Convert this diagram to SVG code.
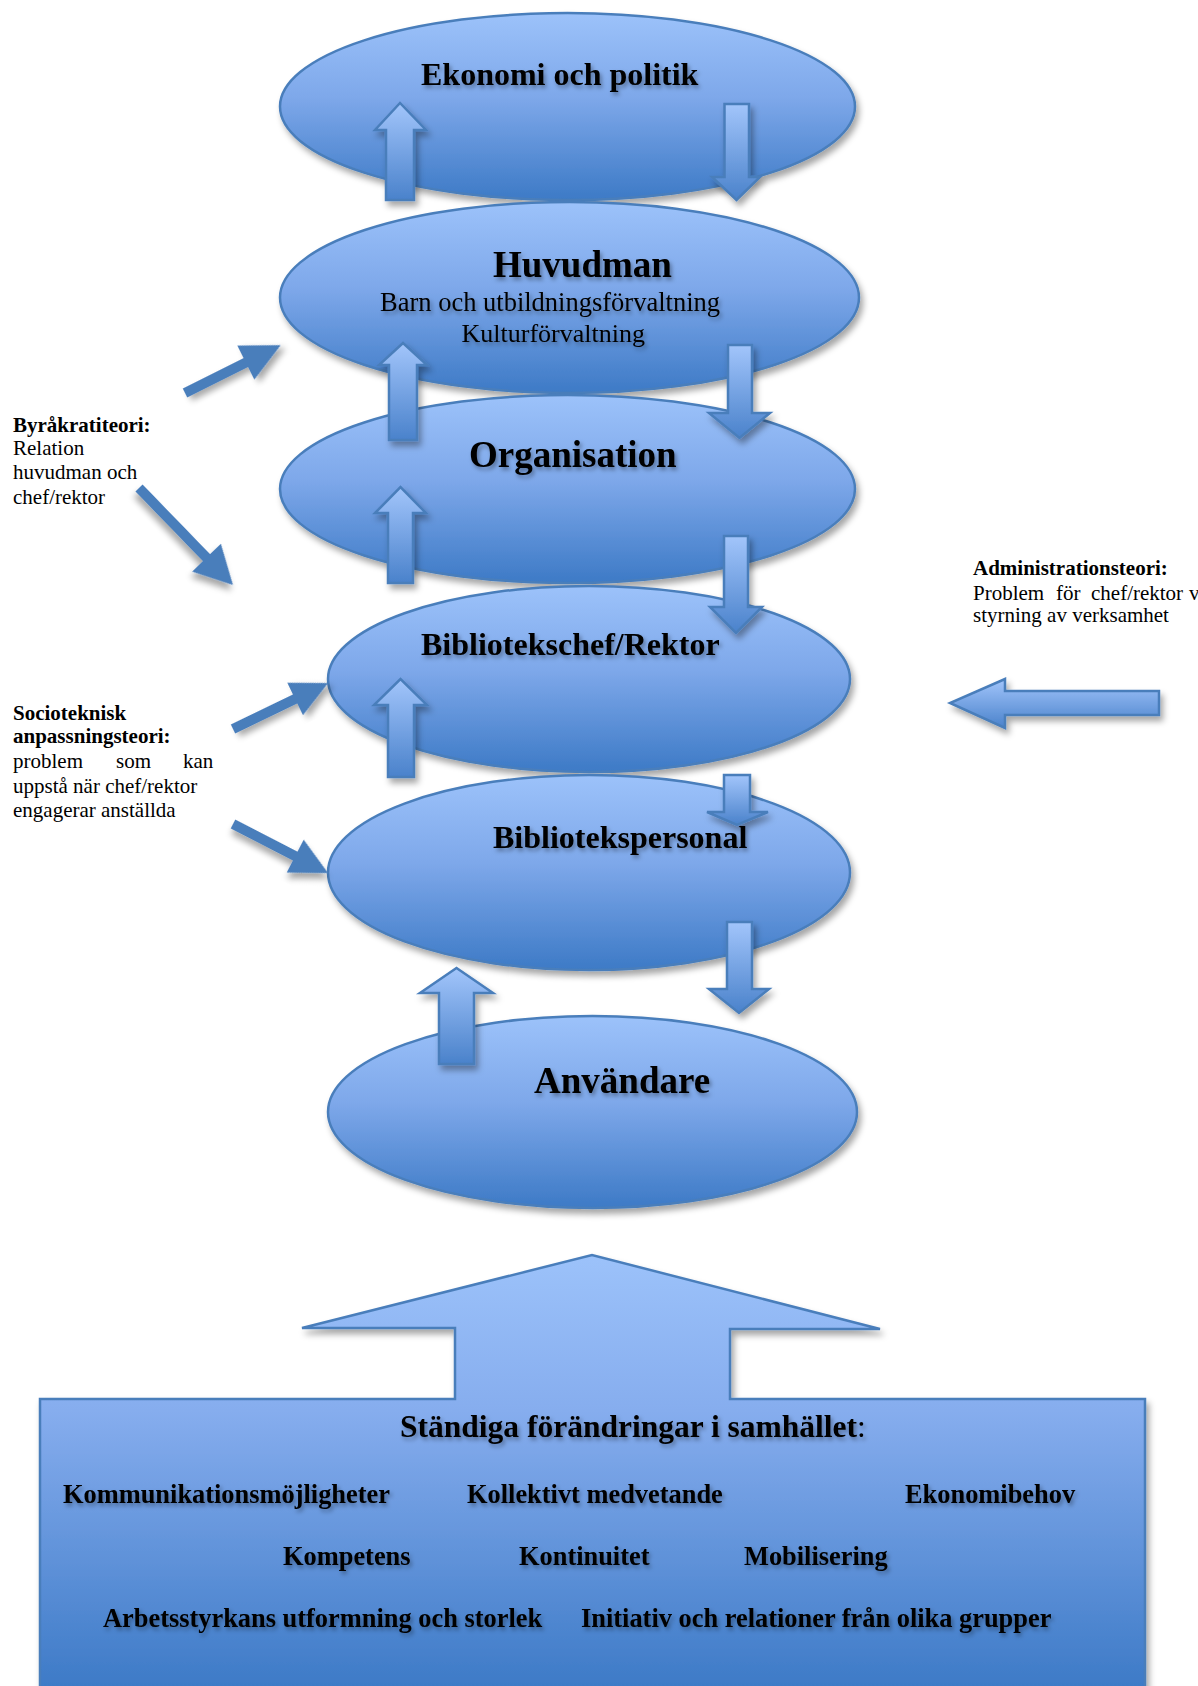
<svg xmlns="http://www.w3.org/2000/svg" width="1198" height="1686" viewBox="0 0 1198 1686">
<defs>
<linearGradient id="eg" x1="0" y1="0" x2="0" y2="1">
<stop offset="0" stop-color="#9cc2fa"/>
<stop offset="0.45" stop-color="#7ea8ea"/>
<stop offset="1" stop-color="#3d7ac6"/>
</linearGradient>
<linearGradient id="ag" x1="0" y1="0" x2="0" y2="1">
<stop offset="0" stop-color="#a2c5fb"/>
<stop offset="1" stop-color="#4a82cb"/>
</linearGradient>
<linearGradient id="bg" gradientUnits="userSpaceOnUse" x1="0" y1="1255" x2="0" y2="1700">
<stop offset="0" stop-color="#9cc2fa"/>
<stop offset="0.35" stop-color="#86adee"/>
<stop offset="1" stop-color="#3a78c5"/>
</linearGradient>
<filter id="sh" x="-15%" y="-15%" width="135%" height="140%">
<feDropShadow dx="3" dy="5" stdDeviation="3" flood-color="#000" flood-opacity="0.35"/>
</filter>
<filter id="ts" x="-5%" y="-30%" width="115%" height="170%">
<feDropShadow dx="2" dy="3" stdDeviation="2" flood-color="#000" flood-opacity="0.35"/>
</filter>
<style>
.ell{fill:url(#eg);stroke:#4a7ebb;stroke-width:2.5;filter:url(#sh)}
.blk{fill:url(#ag);stroke:#4a7ebb;stroke-width:2.5;filter:url(#sh)}
.dia{fill:#4a7ebb;filter:url(#sh)}
.t{font-family:"Liberation Serif","Times New Roman",serif;fill:#000}
.b{font-weight:bold}
.sh{filter:url(#ts)}
.side{font-family:"Liberation Serif","Times New Roman",serif;font-size:21px;fill:#000}
</style>
</defs>
<rect width="1198" height="1686" fill="#fff"/>

<g id="ekonomi">
<ellipse class="ell" cx="567.5" cy="106.5" rx="287.5" ry="93.5"/>
<text class="t b sh" x="421" y="85" font-size="32">Ekonomi och politik</text>
</g>
<g id="huvudman">
<ellipse class="ell" cx="569.5" cy="297.5" rx="289.5" ry="95.5"/>
<text class="t b sh" x="493" y="277" font-size="37">Huvudman</text>
<text class="t sh" x="380" y="311" font-size="26.5">Barn och utbildningsförvaltning</text>
<text class="t sh" x="461.5" y="342" font-size="26">Kulturförvaltning</text>
</g>
<g id="organisation">
<ellipse class="ell" cx="567.5" cy="489" rx="287.5" ry="94"/>
<text class="t b sh" x="469" y="467" font-size="37">Organisation</text>
</g>
<g id="bibliotekschef">
<ellipse class="ell" cx="589" cy="679" rx="261" ry="93"/>
<text class="t b sh" x="421" y="655" font-size="32">Bibliotekschef/Rektor</text>
</g>
<g id="bibliotekspersonal">
<ellipse class="ell" cx="589" cy="872.5" rx="261" ry="97.5"/>
<text class="t b sh" x="493" y="848" font-size="32">Bibliotekspersonal</text>
</g>
<g id="anvandare">
<ellipse class="ell" cx="592.5" cy="1112" rx="264.5" ry="96"/>
<text class="t b sh" x="534" y="1093" font-size="37">Användare</text>
</g>

<g id="connectors">
<!-- up arrows -->
<polygon class="blk" points="386,200 386,130 375,130 400,103 426,130 414,130 414,200"/>
<polygon class="blk" points="389,440 389,365 379,365 403,343 427,365 417,365 417,440"/>
<polygon class="blk" points="388,583 388,513 375,513 400.5,487 426,513 413,513 413,583"/>
<polygon class="blk" points="388,777 388,705 374,705 400.5,679 427,705 414,705 414,777"/>
<polygon class="blk" points="439,1064 439,993 420,993 456.5,968 493,993 474,993 474,1064"/>
<!-- down arrows -->
<polygon class="blk" points="724.5,104 749,104 749,177 760,177 736.5,200 712,177 724.5,177"/>
<polygon class="blk" points="728,345 752,345 752,413 770,413 739.5,438 709,413 728,413"/>
<polygon class="blk" points="724,536 748,536 748,607 762,607 736,633 710,607 724,607"/>
<polygon class="blk" points="724,775 750,775 750,812 768,812 737,825 707,812 724,812"/>
<polygon class="blk" points="727,922 752,922 752,989 769,989 739,1013 709,989 727,989"/>
<!-- left arrow -->
<polygon class="blk" points="1159,691 1005,691 1005,679 950,703 1005,728 1005,715 1159,715"/>
<!-- diagonal arrows -->
<polygon class="dia" transform="translate(185,393) rotate(-26.57)" points="0,-5 68,-5 68,-19 107,0 68,19 68,5 0,5"/>
<polygon class="dia" transform="translate(139,488) rotate(45.9)" points="0,-5 97,-5 97,-20 135,0 97,20 97,5 0,5"/>
<polygon class="dia" transform="translate(233,729) rotate(-25.8)" points="0,-5 69,-5 69,-18 105.6,0 69,18 69,5 0,5"/>
<polygon class="dia" transform="translate(233,824) rotate(27.3)" points="0,-5 70,-5 70,-18.5 107,0 70,18.5 70,5 0,5"/>
</g>

<g id="byrakratiteori">
<text class="side" x="13" y="432"><tspan font-weight="bold">Byråkratiteori:</tspan></text>
<text class="side" x="13" y="455">Relation</text>
<text class="side" x="13" y="479">huvudman och</text>
<text class="side" x="13" y="504">chef/rektor</text>
</g>
<g id="socioteknisk">
<text class="side" x="13" y="720" font-weight="bold">Socioteknisk</text>
<text class="side" x="13" y="743" font-weight="bold">anpassningsteori:</text>
<text class="side" y="768"><tspan x="13">problem</tspan><tspan x="116">som</tspan><tspan x="183">kan</tspan></text>
<text class="side" x="13" y="793">uppstå när chef/rektor</text>
<text class="side" x="13" y="817">engagerar anställda</text>
</g>
<g id="administrationsteori">
<text class="side" x="973" y="575" font-weight="bold">Administrationsteori:</text>
<text class="side" y="600"><tspan x="973">Problem</tspan><tspan x="1056">för</tspan><tspan x="1091">chef/rektor</tspan><tspan x="1189">v</tspan></text>
<text class="side" x="973" y="622">styrning av verksamhet</text>
</g>

<g id="forandringar">
<path fill="url(#bg)" stroke="#4a7ebb" stroke-width="2.5" filter="url(#sh)" d="M40,1399 L455,1399 L455,1328 L302,1328 L592,1255 L880,1329 L730,1329 L730,1399 L1145,1399 L1145,1720 L40,1720 Z"/>
<text class="t b sh" x="400" y="1437" font-size="31.5">Ständiga förändringar i samhället<tspan font-weight="normal">:</tspan></text>
<text class="t b sh" x="63" y="1503" font-size="26.4">Kommunikationsmöjligheter</text>
<text class="t b sh" x="467" y="1503" font-size="26.4">Kollektivt medvetande</text>
<text class="t b sh" x="905" y="1503" font-size="26.4">Ekonomibehov</text>
<text class="t b sh" x="283" y="1565" font-size="26.4">Kompetens</text>
<text class="t b sh" x="519" y="1565" font-size="26.4">Kontinuitet</text>
<text class="t b sh" x="744" y="1565" font-size="26.4">Mobilisering</text>
<text class="t b sh" x="103" y="1627" font-size="26.4">Arbetsstyrkans utformning och storlek</text>
<text class="t b sh" x="581" y="1627" font-size="26.4">Initiativ och relationer från olika grupper</text>
</g>
</svg>
